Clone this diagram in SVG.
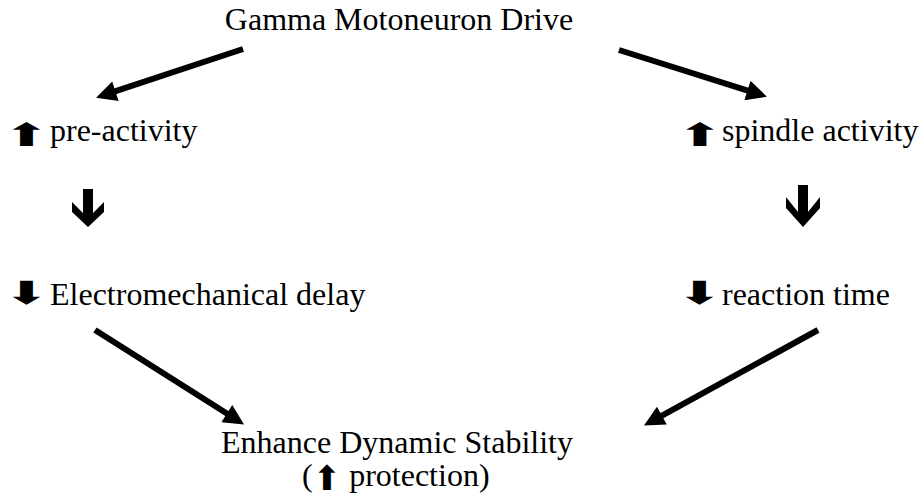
<svg xmlns="http://www.w3.org/2000/svg" width="920" height="497" viewBox="0 0 920 497">
  <style>
    .t { font-family: "Liberation Serif", "Times New Roman", serif; font-size: 32px; fill: #000; }
    .sym { font-family: "DejaVu Sans", sans-serif; font-size: 32px; fill: #000; text-anchor: middle; }
    .isym { font-family: "DejaVu Sans", sans-serif; font-size: 34px; }
    .conn { stroke: #000; stroke-width: 6; fill: none; marker-end: url(#ah); }
    .big { fill: #000; }
  </style>
  <defs>
    <marker id="ah" viewBox="0 0 10 10" refX="3" refY="5" markerWidth="3.7" markerHeight="3.4" orient="auto" markerUnits="strokeWidth">
      <path d="M0,0 L10,5 L0,10 z" fill="#000"/>
    </marker>
  </defs>
  <rect width="920" height="497" fill="#fff"/>

  <g id="gamma">
    <text class="t" x="399" y="30" text-anchor="middle">Gamma Motoneuron Drive</text>
  </g>
  <g id="preactivity">
    <text class="sym" transform="translate(26.5,146) scale(1.75,1)" x="0" y="0">⬆</text>
    <text class="t" x="50" y="141">pre-activity</text>
  </g>
  <g id="spindle">
    <text class="sym" transform="translate(700,146) scale(1.75,1)" x="0" y="0">⬆</text>
    <text class="t" x="722" y="141">spindle activity</text>
  </g>
  <g id="emd">
    <text class="sym" transform="translate(26.5,304) scale(1.75,1)" x="0" y="0">⬇</text>
    <text class="t" x="50" y="305">Electromechanical delay</text>
  </g>
  <g id="reaction">
    <text class="sym" transform="translate(699.5,304) scale(1.75,1)" x="0" y="0">⬇</text>
    <text class="t" x="722" y="305">reaction time</text>
  </g>
  <g id="stability">
    <text class="t" x="397" y="453" text-anchor="middle">Enhance Dynamic Stability</text>
    <text class="t" x="302" y="486">(<tspan class="isym" dy="4">⬆</tspan><tspan dy="-4"> protection)</tspan></text>
  </g>

  <g id="connectors">
    <line class="conn" x1="243" y1="49" x2="109.6" y2="93.2"/>
    <line class="conn" x1="619" y1="50" x2="753.3" y2="92.4"/>
    <line class="conn" x1="95" y1="330" x2="232" y2="416.8"/>
    <line class="conn" x1="818" y1="330" x2="656.5" y2="418.6"/>
    <polygon class="big" points="83,189 93,189 93,213 104,202 104,212 88,227 72,212 72,202 83,213"/>
    <polygon class="big" points="798,185 808,185 808,212 820,197 820,208 803,227 786,208 786,197 798,212"/>
  </g>
</svg>
